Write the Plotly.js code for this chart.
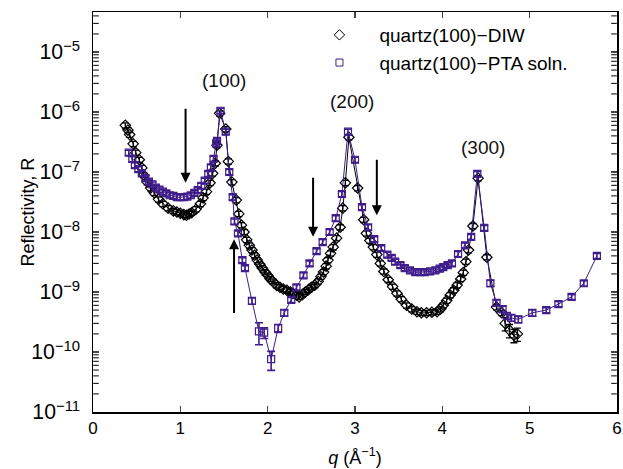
<!DOCTYPE html>
<html>
<head>
<meta charset="utf-8">
<script src="https://cdn.plot.ly/plotly-3.0.1.min.js"></script>
<style>html,body{margin:0;padding:0;background:#fff;}#chart{width:623px;height:469px;}</style>
</head>
<body>
<div id="chart"></div>
<script>
// quartz(100)-DIW
const qDIW = [0.37,0.40,0.42,0.46,0.49,0.53,0.56,0.58,0.62,0.66,0.70,0.75,0.80,0.86,0.92,0.96,1.00,1.04,1.07,1.10,1.13,1.18,1.23,1.26,1.30,1.34,1.37,1.40,1.42,1.45,1.52,1.55,1.59,1.64,1.67,1.70,1.73,1.76,1.79,1.82,1.85,1.88,1.91,1.94,1.97,2.00,2.03,2.06,2.10,2.14,2.18,2.22,2.26,2.29,2.33,2.36,2.40,2.43,2.47,2.50,2.54,2.58,2.61,2.64,2.67,2.69,2.72,2.75,2.79,2.83,2.86,2.89,2.93,3.03,3.10,3.13,3.17,3.21,3.25,3.29,3.33,3.38,3.43,3.48,3.53,3.59,3.65,3.71,3.76,3.82,3.88,3.94,3.98,4.01,4.05,4.09,4.13,4.17,4.21,4.24,4.27,4.30,4.35,4.41,4.51,4.62,4.68,4.72,4.77,4.82,4.86];
const rDIW = [6.0e-7,5.0e-7,4.2e-7,2.95e-7,2.1e-7,1.6e-7,1.17e-7,8.9e-8,6.8e-8,5.4e-8,4.5e-8,3.5e-8,2.95e-8,2.5e-8,2.25e-8,2.15e-8,2.05e-8,1.95e-8,1.9e-8,2.0e-8,2.1e-8,2.4e-8,2.95e-8,3.7e-8,4.7e-8,6.6e-8,9.5e-8,1.4e-7,2.8e-7,9.5e-7,5.2e-7,1.5e-7,6.8e-8,3.4e-8,2.0e-8,1.3e-8,1.0e-8,7.4e-9,6.0e-9,5.0e-9,4.1e-9,3.4e-9,2.9e-9,2.5e-9,2.15e-9,1.9e-9,1.65e-9,1.5e-9,1.3e-9,1.2e-9,1.12e-9,1.07e-9,1.0e-9,9.5e-10,8.9e-10,8.3e-10,9.1e-10,1.0e-9,1.1e-9,1.2e-9,1.3e-9,1.5e-9,1.8e-9,2.15e-9,2.7e-9,3.4e-9,4.4e-9,5.6e-9,7.9e-9,1.2e-8,2.5e-8,6.6e-8,3.8e-7,5.4e-8,1.6e-8,9.5e-9,7.2e-9,5.6e-9,4.2e-9,3.0e-9,2.2e-9,1.6e-9,1.23e-9,9.5e-10,7.6e-10,6.0e-10,5.2e-10,4.7e-10,4.5e-10,4.5e-10,4.6e-10,4.7e-10,5.2e-10,6.0e-10,7.2e-10,8.9e-10,1.07e-9,1.3e-9,1.65e-9,2.1e-9,3.2e-9,5.0e-9,1.26e-8,7.9e-8,3.8e-9,5.6e-10,4.5e-10,3.0e-10,2.3e-10,1.9e-10,2.0e-10];
const relErrDIW = 0.10;
const relErrDIWTail = 0.25;   // q >= 4.7

// quartz(100)-PTA soln.
const qPTA = [0.41,0.45,0.48,0.52,0.56,0.60,0.64,0.68,0.72,0.76,0.80,0.84,0.88,0.92,0.96,1.00,1.04,1.08,1.12,1.16,1.20,1.24,1.28,1.32,1.35,1.38,1.41,1.42,1.46,1.52,1.56,1.60,1.62,1.66,1.71,1.74,1.82,1.90,1.96,2.04,2.12,2.19,2.27,2.33,2.41,2.48,2.56,2.63,2.71,2.78,2.85,2.92,3.00,3.08,3.15,3.22,3.30,3.37,3.42,3.46,3.52,3.57,3.63,3.69,3.75,3.80,3.86,3.92,3.97,4.01,4.06,4.11,4.18,4.26,4.33,4.40,4.48,4.55,4.62,4.69,4.74,4.79,4.87,5.03,5.19,5.33,5.48,5.62,5.77];
const rPTA = [2.1e-7,1.65e-7,1.3e-7,1.12e-7,9.5e-8,7.9e-8,6.9e-8,6.2e-8,5.5e-8,5.1e-8,4.7e-8,4.4e-8,4.1e-8,4.0e-8,3.8e-8,3.8e-8,3.8e-8,3.9e-8,4.1e-8,4.5e-8,5.0e-8,5.9e-8,7.2e-8,9.3e-8,1.2e-7,1.66e-7,3.0e-7,3.3e-7,1.05e-6,4.7e-7,1.0e-7,3.8e-8,1.5e-8,9.5e-9,3.4e-9,2.5e-9,7.1e-10,2.2e-10,2.1e-10,7.6e-11,2.5e-10,4.5e-10,7.4e-10,1.2e-9,1.9e-9,3.0e-9,4.8e-9,6.8e-9,1.0e-8,1.7e-8,4.3e-8,4.7e-7,1.6e-7,2.6e-8,1.2e-8,7.6e-9,5.4e-9,4.2e-9,3.7e-9,3.2e-9,2.8e-9,2.5e-9,2.3e-9,2.15e-9,2.15e-9,2.15e-9,2.2e-9,2.3e-9,2.45e-9,2.6e-9,2.8e-9,3.0e-9,4.3e-9,6.0e-9,8.3e-9,9.3e-8,1.17e-8,1.4e-9,6.6e-10,5.2e-10,4.0e-10,3.7e-10,3.5e-10,4.5e-10,5.0e-10,6.3e-10,8.3e-10,1.4e-9,4.0e-9];
const relErrPTA = [0.1,0.1,0.1,0.1,0.1,0.1,0.1,0.1,0.1,0.1,0.1,0.1,0.1,0.1,0.1,0.1,0.1,0.1,0.1,0.1,0.1,0.1,0.1,0.1,0.1,0.1,0.1,0.1,0.1,0.1,0.1,0.1,0.1,0.1,0.1,0.1,0.12,0.4,0.2,0.35,0.15,0.12,0.1,0.1,0.1,0.1,0.1,0.1,0.1,0.1,0.1,0.1,0.1,0.1,0.1,0.1,0.1,0.1,0.1,0.1,0.1,0.1,0.1,0.1,0.1,0.1,0.1,0.1,0.1,0.1,0.1,0.1,0.1,0.1,0.1,0.1,0.1,0.12,0.12,0.12,0.12,0.12,0.12,0.12,0.1,0.1,0.1,0.1,0.1];

const seriesNames = ['quartz(100)\u2212DIW', 'quartz(100)\u2212PTA soln.'];
const xTitle = '<i>q</i> (\u00c5<sup>\u22121</sup>)';
const yTitle = 'Reflectivity, R';
const peakLabels = ['(100)', '(200)', '(300)'];
const peakLabelQ = [1.50, 2.97, 4.47];
const peakLabelR = [3.4e-6, 1.5e-6, 2.6e-7];
// arrows: tip (q, R) and tail R
const arrowQ = [1.06, 1.615, 2.52, 3.25];
const arrowTipR = [6.6e-8, 7.6e-9, 8.3e-9, 1.9e-8];
const arrowTailR = [1.2e-6, 4.2e-10, 8.5e-8, 1.7e-7];

const purple = '#3f1d8c';
const errDIW = rDIW.map((r, i) => r * (qDIW[i] >= 4.7 ? relErrDIWTail : relErrDIW));
const errPTA = rPTA.map((r, i) => r * relErrPTA[i]);

const xRange = [0, 6];
const yRange = [-11, -4.333];

// minor ticks of the log axis (2..9 in every decade), drawn as short inside dashes on both frame sides
const minorVals = [];
for (let d = -11; d <= -5; d++) for (let k = 2; k <= 9; k++) {
  const v = k * Math.pow(10, d);
  if (Math.log10(v) < yRange[1]) minorVals.push(v);
}
const tickInset = 0.02 * (xRange[1] - xRange[0]) / 3.5;   // ~half tick length in data units

const traces = [
  {x: qDIW, y: rDIW, mode: 'lines+markers', showlegend: false,
   line: {color: 'black', width: 1},
   marker: {symbol: 'diamond-open', size: 8, color: 'black', line: {width: 1.2, color: 'black'}},
   error_y: {type: 'data', array: errDIW, color: 'black', thickness: 1.3, width: 3.5}},
  {x: qPTA, y: rPTA, mode: 'lines+markers', showlegend: false,
   line: {color: purple, width: 1},
   marker: {symbol: 'square-open', size: 7, color: purple, line: {width: 1.2, color: purple}},
   error_y: {type: 'data', array: errPTA, color: purple, thickness: 1.6, width: 4}},
  {x: [null], y: [null], mode: 'markers', name: seriesNames[0], legendgroup: 'a',
   marker: {symbol: 'diamond-open', size: 8, color: 'black', line: {width: 1, color: 'black'}}},
  {x: [null], y: [null], mode: 'markers', name: seriesNames[1], legendgroup: 'b',
   marker: {symbol: 'square-open', size: 7, color: purple, line: {width: 1, color: purple}}},
  {x: minorVals.map(() => xRange[0] + tickInset), y: minorVals, mode: 'markers', showlegend: false, hoverinfo: 'skip',
   marker: {symbol: 'line-ew', size: 4, line: {width: 1, color: 'black'}}},
  {x: minorVals.map(() => xRange[1] - tickInset), y: minorVals, mode: 'markers', showlegend: false, hoverinfo: 'skip',
   marker: {symbol: 'line-ew', size: 4, line: {width: 1, color: 'black'}}}
];

const annotations = [];
peakLabels.forEach((t, i) => annotations.push({
  x: peakLabelQ[i], y: Math.log10(peakLabelR[i]), xref: 'x', yref: 'y',
  text: t, showarrow: false, font: {size: 19, color: '#111'}
}));
arrowQ.forEach((q, i) => annotations.push({
  x: q, y: Math.log10(arrowTipR[i]), xref: 'x', yref: 'y',
  ax: q, ay: Math.log10(arrowTailR[i]), axref: 'x', ayref: 'y',
  text: '', showarrow: true, arrowhead: 2, arrowsize: 1, arrowwidth: 2, arrowcolor: 'black', standoff: 0
}));
annotations.push({xref: 'paper', yref: 'paper', x: -0.125, y: 0.5, xanchor: 'center', yanchor: 'middle',
  text: yTitle, textangle: -90, showarrow: false, font: {size: 18}});

const layout = {
  width: 623, height: 469,
  margin: {l: 93, r: 6, t: 12, b: 57},
  paper_bgcolor: 'white', plot_bgcolor: 'white',
  font: {family: 'Liberation Sans, Arial, sans-serif', color: 'black', size: 17},
  showlegend: true,
  legend: {x: 0.394, y: 0.99, xanchor: 'left', yanchor: 'top', bgcolor: 'rgba(0,0,0,0)',
           font: {size: 19}, itemwidth: 70, traceorder: 'grouped', tracegroupgap: 0},
  xaxis: {range: xRange, dtick: 1, tick0: 0, ticks: 'inside', ticklen: 6, tickwidth: 1.2,
          showline: true, linewidth: 1.5, linecolor: 'black', mirror: 'ticks', showgrid: false, zeroline: false,
          tickfont: {size: 17}, ticklabelstandoff: 0,
          title: {text: xTitle, font: {size: 18}, standoff: 14}},
  yaxis: {type: 'log', range: yRange, dtick: 1, tick0: 0, exponentformat: 'power',
          ticks: 'inside', ticklen: 6, tickwidth: 1.2,
          showline: true, linewidth: 1.5, linecolor: 'black', mirror: 'ticks', showgrid: false, zeroline: false,
          tickfont: {size: 17}, ticklabelstandoff: 8},
  annotations: annotations
};

Plotly.newPlot('chart', traces, layout, {displayModeBar: false, staticPlot: true});
</script>
</body>
</html>
